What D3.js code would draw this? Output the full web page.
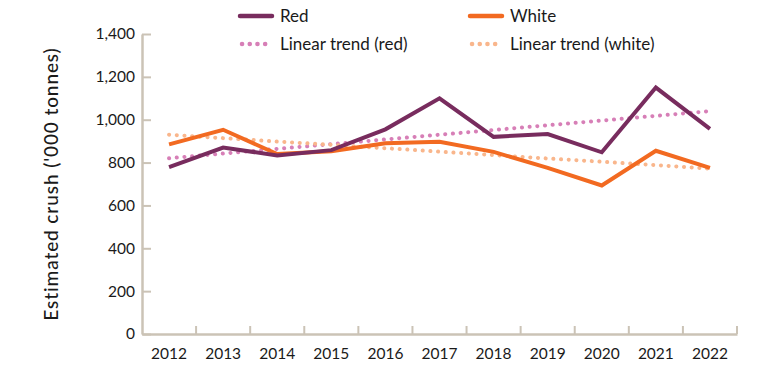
<!DOCTYPE html>
<html>
<head>
<meta charset="utf-8">
<script src="https://cdn.jsdelivr.net/npm/d3@7"></script>
<style>
  body { margin: 0; background: #fff; }
  text { font-family: Lato, "Noto Sans", sans-serif; fill: #1a1a1a; }
</style>
</head>
<body>
<div id="chart"></div>
<script>
var svgWidth = 770;
var svgHeight = 371;

// data
var years = ["2012", "2013", "2014", "2015", "2016", "2017", "2018", "2019", "2020", "2021", "2022"];
var redCrush = [779, 870, 833, 858, 955, 1100, 920, 933, 848, 1150, 957];
var whiteCrush = [885, 953, 840, 853, 890, 897, 850, 775, 693, 855, 775];
var redTrend = [820, 842, 864, 886, 908, 930, 952, 974, 996, 1018, 1040];
var whiteTrend = [930, 914, 898, 883, 867, 851, 835, 819, 804, 788, 772];
var yTicks = [0, 200, 400, 600, 800, 1000, 1200, 1400];

var margin = { top: 34, right: 33, bottom: 37, left: 142 };
var chartWidth = svgWidth - margin.left - margin.right;
var chartHeight = svgHeight - margin.top - margin.bottom;

var axisColor = "#cbc3b6";

var svg = d3.select("#chart")
  .append("svg")
  .attr("width", svgWidth)
  .attr("height", svgHeight);

var chartGroup = svg.append("g")
  .attr("transform", `translate(${margin.left}, ${margin.top})`);

var xBand = d3.scaleBand()
  .domain(years)
  .range([0, chartWidth]);

var yLinearScale = d3.scaleLinear()
  .domain([0, 1400])
  .range([chartHeight, 0]);

// y axis, ticks point inward
var leftAxis = d3.axisLeft(yLinearScale)
  .tickValues(yTicks)
  .tickFormat(d3.format(","))
  .tickSizeInner(-9)
  .tickSizeOuter(0)
  .tickPadding(7);

var yAxis = chartGroup.append("g").call(leftAxis);
yAxis.select(".domain").attr("stroke", axisColor).attr("stroke-width", 2.5);
yAxis.selectAll(".tick line").attr("stroke", axisColor).attr("stroke-width", 2);
yAxis.selectAll(".tick text").style("font-size", "15.5px").attr("fill", "#1a1a1a");

// x axis, ticks at band edges
var bottomAxis = d3.axisBottom(xBand).tickSize(0).tickPadding(14);
var xAxis = chartGroup.append("g")
  .attr("transform", `translate(0, ${chartHeight})`)
  .call(bottomAxis);
xAxis.select(".domain").attr("stroke", axisColor).attr("stroke-width", 2.5);
xAxis.selectAll(".tick text").style("font-size", "15.5px").attr("fill", "#1a1a1a");

var edges = years.map(d => xBand(d) + xBand.bandwidth());
xAxis.selectAll("line.edge")
  .data(edges)
  .enter()
  .append("line")
  .attr("class", "edge")
  .attr("x1", d => d).attr("x2", d => d)
  .attr("y1", 0).attr("y2", -8)
  .attr("stroke", axisColor)
  .attr("stroke-width", 2);

// y title
chartGroup.append("text")
  .attr("transform", "rotate(-90)")
  .attr("x", 0 - chartHeight / 2)
  .attr("y", -84)
  .attr("text-anchor", "middle")
  .style("font-size", "19px")
  .style("font-weight", "500")
  .style("letter-spacing", "0.9px")
  .text("Estimated crush ('000 tonnes)");

var series = [
  { name: "Red", values: redCrush, color: "#782c5e", dash: null },
  { name: "White", values: whiteCrush, color: "#f26a21", dash: null },
  { name: "Linear trend (red)", values: redTrend, color: "#d77fb7", dash: "0.1 7.6" },
  { name: "Linear trend (white)", values: whiteTrend, color: "#f9b68c", dash: "0.1 7.6" }
];

var line = d3.line()
  .x((d, i) => xBand(years[i]) + xBand.bandwidth() / 2)
  .y(d => yLinearScale(d));

// draw trends first, then actuals on top
[2, 3, 1, 0].forEach(function(k) {
  var s = series[k];
  chartGroup.append("path")
    .datum(s.values)
    .attr("d", line)
    .attr("fill", "none")
    .attr("stroke", s.color)
    .attr("stroke-width", 4)
    .attr("stroke-linecap", s.dash ? "round" : "butt")
    .attr("stroke-linejoin", "miter")
    .attr("stroke-dasharray", s.dash);
});

// legend
var legendPos = [[240, 16], [470, 16], [240, 44], [470, 44]];
series.forEach(function(s, i) {
  var g = svg.append("g")
    .attr("transform", `translate(${legendPos[i][0]}, ${legendPos[i][1]})`);
  g.append("line")
    .attr("x1", s.dash ? 2 : 0).attr("x2", 32)
    .attr("y1", 0).attr("y2", 0)
    .attr("stroke", s.color)
    .attr("stroke-width", 4.5)
    .attr("stroke-linecap", "round")
    .attr("stroke-dasharray", s.dash);
  g.append("text")
    .attr("x", 40)
    .attr("y", 0)
    .attr("dy", "0.35em")
    .style("font-size", "17px")
    .text(s.name);
});
</script>
</body>
</html>
